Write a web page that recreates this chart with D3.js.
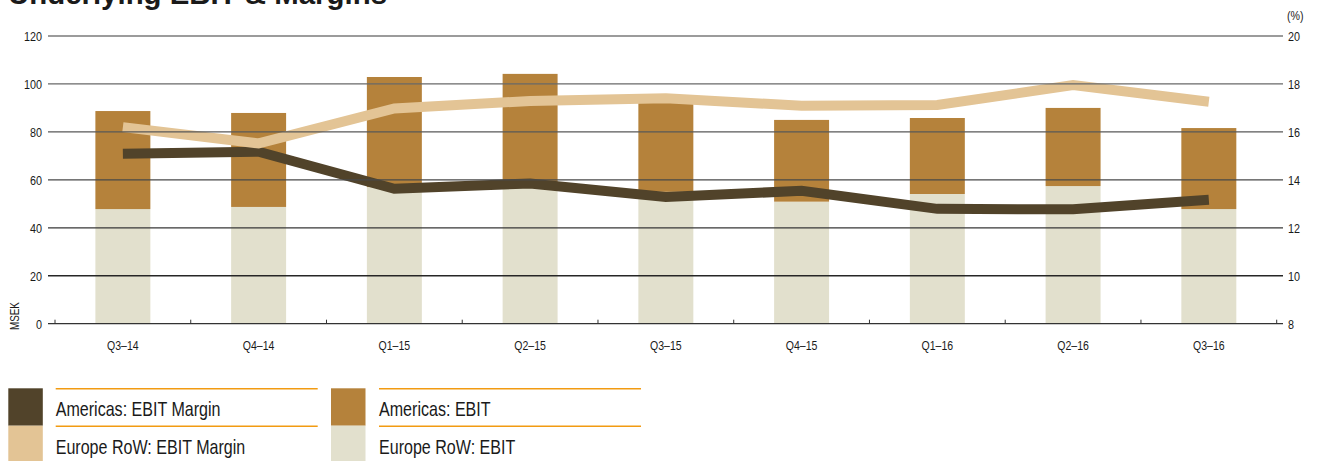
<!DOCTYPE html>
<html><head><meta charset="utf-8">
<script src="https://cdn.jsdelivr.net/npm/d3@7"></script>
<style>
html,body{margin:0;padding:0;background:#fff;}
svg{display:block;}
text{font-family:"Liberation Sans Narrow","Liberation Sans",Arial,sans-serif;fill:#1a1a1a;}
</style></head>
<body>
<svg id="chart" width="1319" height="461"></svg>
<script>
const title = "Underlying EBIT & Margins";
const categories = ["Q3–14","Q4–14","Q1–15","Q2–15","Q3–15","Q4–15","Q1–16","Q2–16","Q3–16"];
const europeEbit   = [47.8, 48.7, 57.0, 58.0, 55.0, 50.9, 54.1, 57.4, 47.8];
const americasEbit = [40.9, 39.2, 45.9, 46.2, 38.0, 34.1, 31.7, 32.6, 33.8];
const americasMargin = [15.09, 15.17, 13.63, 13.85, 13.29, 13.54, 12.79, 12.77, 13.17];
const europeMargin   = [16.20, 15.52, 16.98, 17.29, 17.40, 17.09, 17.12, 17.95, 17.26];
const leftTicks  = [0, 20, 40, 60, 80, 100, 120];
const rightTicks = [8, 10, 12, 14, 16, 18, 20];
const legendItems = [
  {label:"Americas: EBIT Margin", key:"amM"},
  {label:"Europe RoW: EBIT Margin", key:"euM"},
  {label:"Americas: EBIT", key:"amE"},
  {label:"Europe RoW: EBIT", key:"euE"}
];

const colors = {amM:"#51432a", euM:"#e3c495", amE:"#b5823b", euE:"#e2e0cd"};
const FONT = "'Liberation Sans',Arial,sans-serif";

// condense text horizontally (the original uses a condensed face)
function condense(sel, k) {
  sel.each(function() {
    const w = this.getComputedTextLength();
    d3.select(this).attr("textLength", w * k).attr("lengthAdjust", "spacingAndGlyphs");
  });
}

const svg = d3.select("#chart");
const x = d3.scaleBand().domain(categories).range([55, 1276.7]).paddingInner(0).paddingOuter(0);
const yL = d3.scaleLinear().domain([0, 120]).range([323.7, 36]);
const yR = d3.scaleLinear().domain([8, 20]).range([323.7, 36]);
const barW = x.bandwidth() * 0.405;
const cx = c => x(c) + x.bandwidth() / 2;

// title
svg.append("text").attr("x", 8).attr("y", 4)
  .style("font-family", FONT)
  .attr("font-weight", "bold").attr("font-size", 29)
  .attr("textLength", 379).attr("lengthAdjust", "spacingAndGlyphs")
  .text(title);

// bars (stacked)
const rows = categories.map((c, i) => ({cat: c, euE: europeEbit[i], amE: americasEbit[i]}));
const stack = d3.stack().keys(["euE", "amE"])(rows);
svg.append("g").selectAll("g").data(stack).join("g")
  .attr("fill", d => colors[d.key])
  .selectAll("rect").data(d => d).join("rect")
  .attr("x", d => x(d.data.cat) + (x.bandwidth() - barW) / 2)
  .attr("width", barW)
  .attr("y", d => yL(d[1]))
  .attr("height", d => yL(d[0]) - yL(d[1]));

// margin lines
const line = d3.line().x((d, i) => cx(categories[i])).y(d => yR(d));
svg.append("path").datum(americasMargin).attr("d", line)
  .attr("fill", "none").attr("stroke", colors.amM).attr("stroke-width", 10)
  .attr("stroke-linejoin", "miter").attr("stroke-linecap", "butt");
svg.append("path").datum(europeMargin).attr("d", line)
  .attr("fill", "none").attr("stroke", colors.euM).attr("stroke-width", 10)
  .attr("stroke-linejoin", "miter").attr("stroke-linecap", "butt");

// gridlines
const gridShade = d3.scaleLinear().domain([20, 120]).range(["#262626", "#7a7a7a"]);
svg.append("g").selectAll("line").data(leftTicks.filter(t => t > 0)).join("line")
  .attr("x1", 48).attr("x2", 1283)
  .attr("y1", d => yL(d)).attr("y2", d => yL(d))
  .attr("stroke", d => gridShade(d)).attr("stroke-width", 1.3);

// x axis
const xAxis = d3.axisBottom(x).tickSize(0).tickPadding(0).tickFormat(d => d);
const gx = svg.append("g").attr("transform", `translate(0,${yL(0)})`).call(xAxis);
gx.select(".domain").remove();
gx.selectAll(".tick text").attr("y", 17).attr("font-size", 13).attr("fill", "#1a1a1a")
  .style("font-family", FONT).call(condense, 0.81);
svg.append("line").attr("x1", 48).attr("x2", 1283).attr("y1", yL(0)).attr("y2", yL(0))
  .attr("stroke", "#333").attr("stroke-width", 1.3);
const bounds = categories.map(c => x(c)).concat([x.range()[1]]);
svg.append("g").selectAll("line").data(bounds).join("line")
  .attr("x1", d => d).attr("x2", d => d)
  .attr("y1", yL(0)).attr("y2", yL(0) - 4)
  .attr("stroke", "#333").attr("stroke-width", 1);

// left axis labels
const gl = svg.append("g").attr("transform", "translate(42,0)")
  .call(d3.axisLeft(yL).tickValues(leftTicks).tickSize(0).tickPadding(0));
gl.select(".domain").remove();
gl.selectAll(".tick text").attr("font-size", 13.5).attr("fill", "#1a1a1a")
  .style("font-family", FONT).call(condense, 0.8);

// right axis labels
const gr = svg.append("g").attr("transform", "translate(1288,0)")
  .call(d3.axisRight(yR).tickValues(rightTicks).tickSize(0).tickPadding(0));
gr.select(".domain").remove();
gr.selectAll(".tick text").attr("font-size", 13.5).attr("fill", "#1a1a1a")
  .style("font-family", FONT).call(condense, 0.8);

svg.append("text").attr("x", 1287).attr("y", 20).attr("font-size", 13)
  .style("font-family", FONT).text("(%)").call(condense, 0.82);
svg.append("text").attr("transform", "translate(19,330) rotate(-90)")
  .attr("font-size", 12).style("font-family", FONT).text("MSEK").call(condense, 0.82);

// legend
const legPos = [
  {sx: 8.3, sy: 388.3, tx: 55.7, lx2: 317.7},
  {sx: 8.3, sy: 425.7, tx: 55.7, lx2: 317.7},
  {sx: 331, sy: 388.3, tx: 379, lx2: 641},
  {sx: 331, sy: 425.7, tx: 379, lx2: 641}
];
const lg = svg.append("g");
legendItems.forEach((it, i) => {
  const p = legPos[i];
  lg.append("rect").attr("x", p.sx).attr("y", p.sy).attr("width", 34.5)
    .attr("height", i % 2 === 0 ? 37.4 : 40).attr("fill", colors[it.key]);
  lg.append("line").attr("x1", p.tx).attr("x2", p.lx2)
    .attr("y1", p.sy + 0.5).attr("y2", p.sy + 0.5)
    .attr("stroke", "#f29b12").attr("stroke-width", 1.5);
  lg.append("text").attr("x", p.tx).attr("y", p.sy + 28)
    .attr("font-size", 21).style("font-family", FONT).text(it.label)
    .call(condense, 0.765);
});
</script>
</body></html>
